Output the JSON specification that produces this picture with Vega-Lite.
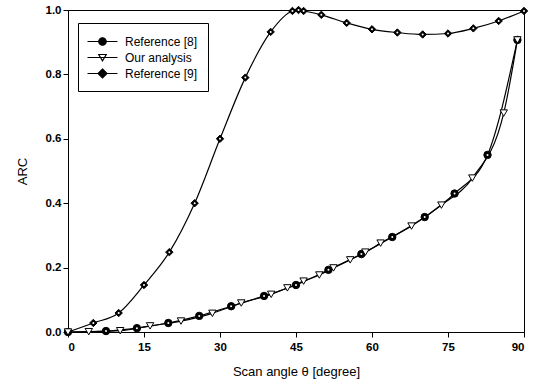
{
  "$schema": "https://vega.github.io/schema/vega-lite/v6.json",
  "width": 456,
  "height": 322,
  "autosize": {"type": "none"},
  "padding": {"left": 68, "top": 10, "right": 15, "bottom": 59},
  "background": "white",
  "config": {
    "view": {"stroke": "black", "strokeWidth": 1},
    "font": "Liberation Sans",
    "axis": {
      "grid": false,
      "domainColor": "black",
      "tickColor": "black",
      "labelColor": "black",
      "titleColor": "black",
      "labelFont": "Liberation Sans",
      "titleFont": "Liberation Sans",
      "labelFontSize": 11.5,
      "labelFontWeight": "bold",
      "titleFontSize": 13,
      "titleFontWeight": "normal",
      "tickSize": 5
    }
  },
  "resolve": {"legend": {"shape": "independent", "fill": "independent", "color": "independent"}},
  "data": {
    "values": [
      {"series": "Reference [9]", "angle": 0, "arc": 0},
      {"series": "Reference [9]", "angle": 5, "arc": 0.028},
      {"series": "Reference [9]", "angle": 10, "arc": 0.059},
      {"series": "Reference [9]", "angle": 15, "arc": 0.146},
      {"series": "Reference [9]", "angle": 20, "arc": 0.248},
      {"series": "Reference [9]", "angle": 25, "arc": 0.40},
      {"series": "Reference [9]", "angle": 30, "arc": 0.60},
      {"series": "Reference [9]", "angle": 35, "arc": 0.79},
      {"series": "Reference [9]", "angle": 40, "arc": 0.932},
      {"series": "Reference [9]", "angle": 44.3, "arc": 0.997},
      {"series": "Reference [9]", "angle": 45.5, "arc": 1.0},
      {"series": "Reference [9]", "angle": 46.5, "arc": 0.997},
      {"series": "Reference [9]", "angle": 50, "arc": 0.985},
      {"series": "Reference [9]", "angle": 55, "arc": 0.96},
      {"series": "Reference [9]", "angle": 60, "arc": 0.94},
      {"series": "Reference [9]", "angle": 65, "arc": 0.93},
      {"series": "Reference [9]", "angle": 70, "arc": 0.924},
      {"series": "Reference [9]", "angle": 75, "arc": 0.927},
      {"series": "Reference [9]", "angle": 80, "arc": 0.943},
      {"series": "Reference [9]", "angle": 85, "arc": 0.966},
      {"series": "Reference [9]", "angle": 90, "arc": 0.997},
      {"series": "Reference [8]", "angle": 0, "arc": 0},
      {"series": "Reference [8]", "angle": 7.5, "arc": 0.003},
      {"series": "Reference [8]", "angle": 13.6, "arc": 0.012},
      {"series": "Reference [8]", "angle": 19.8, "arc": 0.028},
      {"series": "Reference [8]", "angle": 25.9, "arc": 0.05},
      {"series": "Reference [8]", "angle": 32.2, "arc": 0.08},
      {"series": "Reference [8]", "angle": 38.7, "arc": 0.112},
      {"series": "Reference [8]", "angle": 45, "arc": 0.146},
      {"series": "Reference [8]", "angle": 51.4, "arc": 0.193},
      {"series": "Reference [8]", "angle": 57.9, "arc": 0.242},
      {"series": "Reference [8]", "angle": 64, "arc": 0.295},
      {"series": "Reference [8]", "angle": 70.4, "arc": 0.357},
      {"series": "Reference [8]", "angle": 76.3, "arc": 0.43},
      {"series": "Reference [8]", "angle": 82.8, "arc": 0.55},
      {"series": "Reference [8]", "angle": 88.7, "arc": 0.907},
      {"series": "Our analysis", "angle": 0, "arc": 0},
      {"series": "Our analysis", "angle": 4.1, "arc": 0.001},
      {"series": "Our analysis", "angle": 10.3, "arc": 0.004},
      {"series": "Our analysis", "angle": 16.2, "arc": 0.019},
      {"series": "Our analysis", "angle": 22.3, "arc": 0.034},
      {"series": "Our analysis", "angle": 28.5, "arc": 0.058},
      {"series": "Our analysis", "angle": 34.2, "arc": 0.09},
      {"series": "Our analysis", "angle": 40.1, "arc": 0.117},
      {"series": "Our analysis", "angle": 43.3, "arc": 0.137},
      {"series": "Our analysis", "angle": 46.5, "arc": 0.158},
      {"series": "Our analysis", "angle": 49.6, "arc": 0.177},
      {"series": "Our analysis", "angle": 52.4, "arc": 0.199},
      {"series": "Our analysis", "angle": 55.7, "arc": 0.224},
      {"series": "Our analysis", "angle": 58.7, "arc": 0.248},
      {"series": "Our analysis", "angle": 61.7, "arc": 0.276},
      {"series": "Our analysis", "angle": 67.8, "arc": 0.329},
      {"series": "Our analysis", "angle": 73.7, "arc": 0.394},
      {"series": "Our analysis", "angle": 79.8, "arc": 0.478},
      {"series": "Our analysis", "angle": 86, "arc": 0.68},
      {"series": "Our analysis", "angle": 88.7, "arc": 0.907}
    ]
  },
  "encoding": {
    "x": {
      "field": "angle", "type": "quantitative",
      "scale": {"domain": [0, 90], "nice": false},
      "axis": {"values": [0, 15, 30, 45, 60, 75, 90], "title": "Scan angle θ [degree]", "titlePadding": 13, "labelPadding": 4}
    },
    "y": {
      "field": "arc", "type": "quantitative",
      "scale": {"domain": [0, 1], "nice": false},
      "axis": {"values": [0, 0.2, 0.4, 0.6, 0.8, 1.0], "format": ".1f", "title": "ARC", "titlePadding": 16}
    }
  },
  "layer": [
    {
      "mark": {"type": "line", "interpolate": "monotone", "strokeWidth": 1.2},
      "encoding": {
        "color": {
          "field": "series", "type": "nominal",
          "scale": {"domain": ["Reference [8]", "Our analysis", "Reference [9]"], "range": ["black", "black", "black"]},
          "legend": {
            "title": null,
            "orient": "none",
            "legendX": 10,
            "legendY": 13,
            "strokeColor": "black",
            "fillColor": "white",
            "padding": 10,
            "symbolSize": 225,
            "symbolOffset": 6,
            "labelOffset": 14,
            "labelFontSize": 12,
            "labelFont": "Liberation Sans",
            "labelColor": "black",
            "rowPadding": 1,
            "encode": {
              "symbols": {
                "update": {
                  "shape": {"signal": "datum.value === 'Reference [8]' ? 'M-2,0H2M-0.5,0A0.5,0.5,0,1,0,0.5,0A0.5,0.5,0,1,0,-0.5,0Z' : datum.value === 'Our analysis' ? 'M-2,0H2M-0.5,-0.4L0.5,-0.4L0,0.45Z' : 'M-2,0H2M0,-0.6L0.6,0L0,0.6L-0.6,0Z'"},
                  "fill": {"signal": "datum.value === 'Our analysis' ? 'white' : 'black'"},
                  "stroke": {"value": "black"},
                  "strokeWidth": {"value": 1.2},
                  "opacity": {"value": 1}
                }
              }
            }
          }
        }
      }
    },
    {
      "mark": {"type": "point", "filled": true, "stroke": "black", "strokeWidth": 1, "size": 55, "opacity": 1},
      "encoding": {
        "shape": {
          "field": "series", "type": "nominal",
          "scale": {"domain": ["Reference [8]", "Our analysis", "Reference [9]"], "range": ["circle", "triangle-down", "diamond"]},
          "legend": null
        },
        "fill": {
          "field": "series", "type": "nominal",
          "scale": {"domain": ["Reference [8]", "Our analysis", "Reference [9]"], "range": ["black", "white", "black"]},
          "legend": null
        }
      }
    },
    {
      "transform": [{"filter": "datum.series !== 'Our analysis'"}],
      "mark": {"type": "point", "filled": true, "shape": "circle", "size": 4, "color": "white", "opacity": 1}
    }
  ]
}
